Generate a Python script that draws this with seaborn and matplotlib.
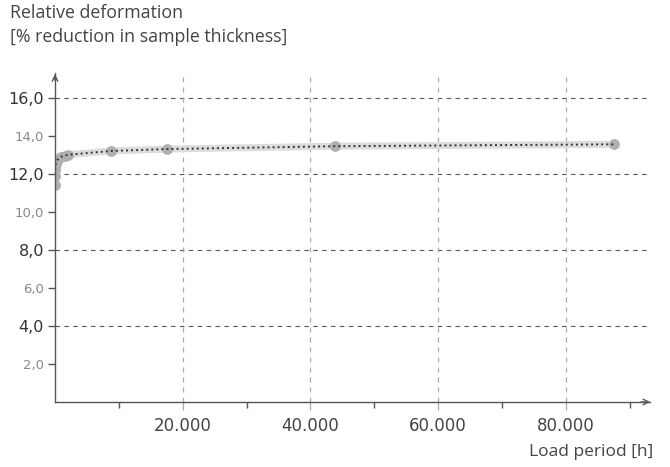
import matplotlib
matplotlib.use("Agg")
import matplotlib.pyplot as plt
import seaborn as sns
import pandas as pd

# Creep test: relative deformation over load period
load_hours = [0, 1, 10, 24, 100, 240, 500, 1000, 1500, 2000, 8760, 17520, 43800, 87600]
deformation = [11.4, 11.9, 12.2, 12.35, 12.5, 12.65, 12.8, 12.9, 12.95, 13.0, 13.2, 13.3, 13.45, 13.55]

major_y = [4, 8, 12, 16]
minor_y = [2, 6, 10, 14]
major_x = [20000, 40000, 60000, 80000]
minor_x = [10000, 30000, 50000, 70000, 90000]

y_title = "Relative deformation\n[% reduction in sample thickness]"
x_title = "Load period [h]"

df = pd.DataFrame({"t": load_hours, "d": deformation})

sns.set_style("white")
plt.rcParams["font.family"] = ["DejaVu Sans"]

W, H = 670, 467
fig = plt.figure(figsize=(W / 100, H / 100), dpi=100)
x0, x1, ytop, ybot = 55, 650, 73, 402
ax = fig.add_axes([x0 / W, (H - ybot) / H, (x1 - x0) / W, (ybot - ytop) / H])
ax.set_xlim(0, 93200)
ax.set_ylim(0, 17.3)

# grid
for v in major_y:
    ax.axhline(v, color="#555555", lw=0.8, ls=(0, (4, 4)), zorder=1)
for v in major_x:
    ax.axvline(v, color="#aaaaaa", lw=0.9, ls=(0, (4, 4)), zorder=1)

# halo line with markers, then dotted core line
sns.lineplot(data=df, x="t", y="d", ax=ax, color="#dcdcdc", lw=5,
             marker="o", markersize=7, markerfacecolor="#b0b0b0",
             markeredgecolor="#b0b0b0", zorder=3)
sns.lineplot(data=df, x="t", y="d", ax=ax, color="#333333", lw=1.4,
             ls=(0, (1, 1.6)), zorder=4)

for s in ["top", "right"]:
    ax.spines[s].set_visible(False)
for s in ["left", "bottom"]:
    ax.spines[s].set_color("#555555")
    ax.spines[s].set_linewidth(1.0)
    ax.spines[s].set_zorder(5)

# arrow heads
ax.annotate("", xy=(1.005, 0), xytext=(0.98, 0), xycoords="axes fraction",
            arrowprops=dict(arrowstyle="->", color="#555555", lw=1.0,
                            mutation_scale=10))
ax.annotate("", xy=(0, 1.005), xytext=(0, 0.97), xycoords="axes fraction",
            arrowprops=dict(arrowstyle="->", color="#555555", lw=1.0,
                            mutation_scale=10))

# ticks
ax.set_yticks(major_y)
ax.set_yticklabels([f"{v:.1f}".replace(".", ",") for v in major_y],
                   fontsize=11.5, color="#333333")
ax.set_yticks(minor_y, minor=True)
ax.set_yticklabels([f"{v:.1f}".replace(".", ",") for v in minor_y],
                   minor=True, fontsize=9.5, color="#888888")
ax.tick_params(axis="y", which="both", direction="out", length=5, width=1,
               color="#555555", pad=3, left=True)

ax.set_xticks(major_x)
ax.set_xticklabels([f"{v:,}".replace(",", ".") for v in major_x],
                   fontsize=12, color="#444444")
ax.set_xticks(minor_x, minor=True)
ax.tick_params(axis="x", which="major", direction="out", length=6, width=0.9,
               color="#aaaaaa", pad=5, bottom=True)
ax.tick_params(axis="x", which="minor", direction="out", length=4, width=1,
               color="#555555", bottom=True)

ax.set_xlabel("")
ax.set_ylabel("")

fig.text(10 / W, 1 - 4 / H, y_title, ha="left", va="top", fontsize=12.8,
         color="#444444", linespacing=1.45, family="Open Sans")
fig.text(653 / W, 1 - 452 / H, x_title, ha="right", va="center", fontsize=12.5,
         color="#444444", family="Open Sans")

fig.savefig("out.png", dpi=100)
